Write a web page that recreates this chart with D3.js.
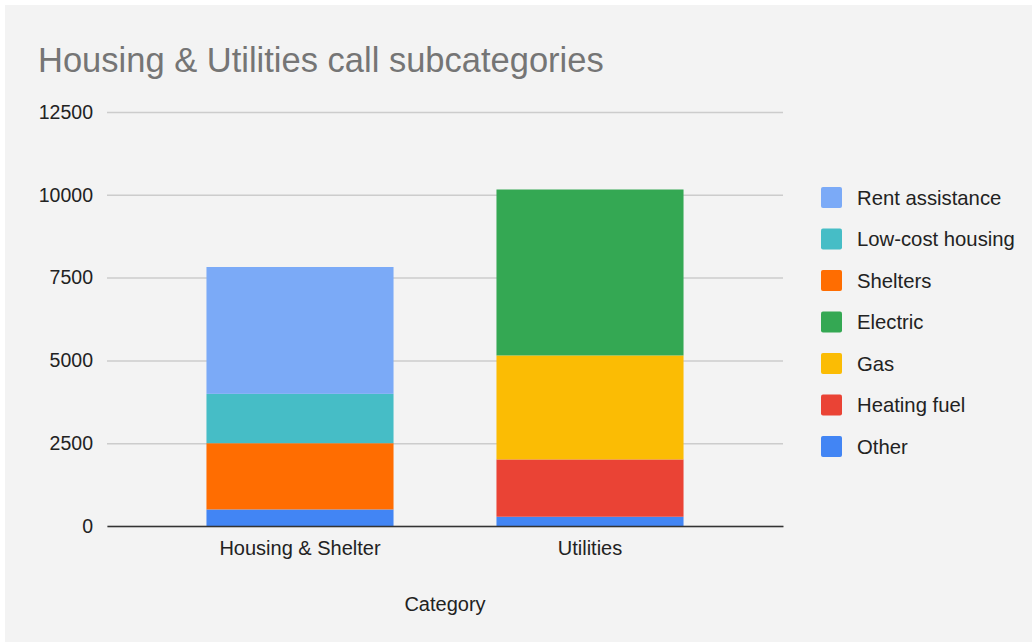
<!DOCTYPE html>
<html>
<head>
<meta charset="utf-8">
<script src="https://cdn.jsdelivr.net/npm/d3@7"></script>
<style>
  body { margin: 0; background: #fff; font-family: "Liberation Sans", Arial, sans-serif; }
  .grid line { stroke: #cccccc; stroke-width: 1.5; }
  .grid .domain { display: none; }
</style>
</head>
<body>
<svg id="chart" width="1032" height="642"></svg>
<script>
// chart data
var categories = ["Housing & Shelter", "Utilities"];
var seriesNames = ["Other", "Heating fuel", "Gas", "Electric", "Shelters", "Low-cost housing", "Rent assistance"];
var seriesColors = ["#4285f4", "#ea4335", "#fbbc04", "#34a853", "#ff6d01", "#46bdc6", "#7baaf7"];
var otherVals = [500, 280];
var heatingFuelVals = [0, 1730];
var gasVals = [0, 3140];
var electricVals = [0, 5010];
var sheltersVals = [2000, 0];
var lowCostVals = [1490, 0];
var rentVals = [3830, 0];
var yTicks = [0, 2500, 5000, 7500, 10000, 12500];
var legendOrder = ["Rent assistance", "Low-cost housing", "Shelters", "Electric", "Gas", "Heating fuel", "Other"];

var valuesBySeries = {
  "Other": otherVals,
  "Heating fuel": heatingFuelVals,
  "Gas": gasVals,
  "Electric": electricVals,
  "Shelters": sheltersVals,
  "Low-cost housing": lowCostVals,
  "Rent assistance": rentVals
};

var rows = categories.map(function (c, i) {
  var r = { category: c };
  seriesNames.forEach(function (s) { r[s] = valuesBySeries[s][i]; });
  return r;
});

var svg = d3.select("#chart");
var margin = { top: 112, right: 249, bottom: 116, left: 107 };
var width = 1032 - margin.left - margin.right;
var height = 642 - margin.top - margin.bottom;

svg.append("rect")
  .attr("x", 5).attr("y", 5)
  .attr("width", 1027).attr("height", 637)
  .attr("fill", "#f3f3f3");

svg.append("text")
  .attr("x", 38).attr("y", 72)
  .attr("fill", "#757575")
  .style("font-size", "34.5px")
  .text("Housing & Utilities call subcategories");

var g = svg.append("g").attr("transform", "translate(" + margin.left + "," + margin.top + ")");

var x = d3.scaleBand()
  .domain(categories)
  .range([0, width])
  .paddingInner(0.355)
  .paddingOuter(0.343);

var y = d3.scaleLinear()
  .domain([0, 12500])
  .range([height, 0]);

var color = d3.scaleOrdinal().domain(seriesNames).range(seriesColors);

// gridlines
g.append("g")
  .attr("class", "grid")
  .call(d3.axisLeft(y).tickValues(yTicks).tickSize(-width).tickFormat(""));

// y labels
g.append("g")
  .call(d3.axisLeft(y).tickValues(yTicks).tickSize(0).tickPadding(14).tickFormat(d3.format("d")))
  .call(function (a) { a.select(".domain").remove(); })
  .selectAll("text")
  .attr("fill", "#222")
  .style("font-family", "Liberation Sans, Arial, sans-serif")
  .style("font-size", "19.5px");

var stacked = d3.stack().keys(seriesNames)(rows);

g.selectAll("g.layer")
  .data(stacked)
  .enter().append("g")
  .attr("class", "layer")
  .attr("fill", function (d) { return color(d.key); })
  .selectAll("rect")
  .data(function (d) { return d.filter(function (p) { return p[1] > p[0]; }); })
  .enter().append("rect")
  .attr("x", function (d) { return x(d.data.category); })
  .attr("y", function (d) { return y(d[1]); })
  .attr("width", x.bandwidth())
  .attr("height", function (d) { return y(d[0]) - y(d[1]); });

// x axis
var xAxis = g.append("g")
  .attr("transform", "translate(0," + height + ")")
  .call(d3.axisBottom(x).tickSize(0).tickPadding(15));
xAxis.select(".domain").attr("stroke", "#333").attr("stroke-width", 1.5);
xAxis.selectAll("text")
  .attr("fill", "#222")
  .style("font-family", "Liberation Sans, Arial, sans-serif")
  .style("font-size", "20px");

g.append("text")
  .attr("x", width / 2)
  .attr("y", height + 85)
  .attr("text-anchor", "middle")
  .attr("fill", "#222")
  .style("font-size", "20px")
  .text("Category");

// legend
var legend = svg.append("g").attr("transform", "translate(821,187)");
var item = legend.selectAll("g")
  .data(legendOrder)
  .enter().append("g")
  .attr("transform", function (d, i) { return "translate(0," + (i * 41.5) + ")"; });
item.append("rect")
  .attr("width", 21).attr("height", 21)
  .attr("rx", 2)
  .attr("fill", function (d) { return color(d); });
item.append("text")
  .attr("x", 36).attr("y", 17.5)
  .attr("fill", "#222")
  .style("font-size", "20.3px")
  .text(function (d) { return d; });
</script>
</body>
</html>
